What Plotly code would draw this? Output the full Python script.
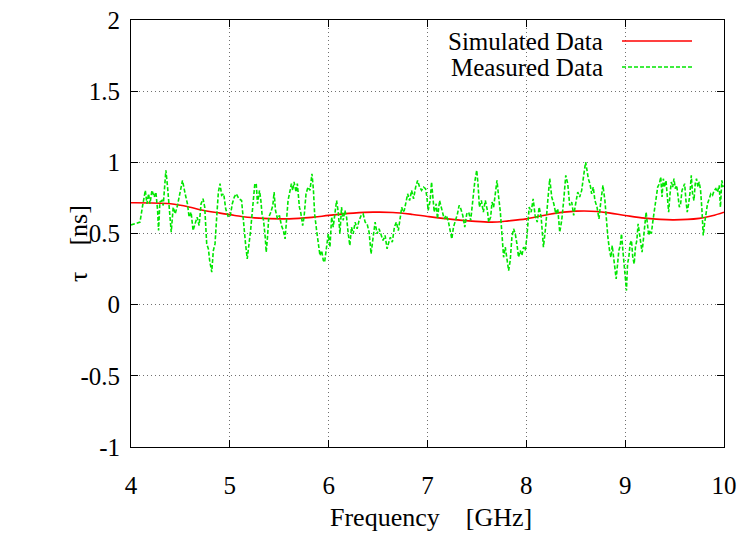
import plotly.graph_objects as go

# ---------------- data ----------------
sim_freq = [4.0, 4.4, 4.6, 4.7, 4.9, 5.05, 5.25, 5.6, 5.85, 6.0, 6.25, 6.45, 6.65, 6.85, 7.0,
            7.25, 7.45, 7.65, 7.82, 8.0, 8.22, 8.5, 8.72, 8.85, 9.0, 9.2, 9.48, 9.75, 9.88, 10.0]
sim_tau = [0.716, 0.709, 0.685, 0.667, 0.643, 0.627, 0.61, 0.603, 0.615, 0.627, 0.643, 0.65, 0.648,
           0.634, 0.62, 0.599, 0.587, 0.58, 0.589, 0.603, 0.634, 0.657, 0.655, 0.643, 0.627, 0.608,
           0.596, 0.606, 0.625, 0.65]

meas_freq = [
    4.0, 4.091, 4.118, 4.145, 4.161, 4.178, 4.192, 4.212, 4.235, 4.252, 4.269, 4.279, 4.292, 4.313,
    4.326, 4.353, 4.370, 4.386, 4.407, 4.427, 4.447, 4.470, 4.494, 4.521, 4.548, 4.571, 4.588,
    4.608, 4.628, 4.649, 4.669, 4.689, 4.709, 4.729, 4.746, 4.766, 4.783, 4.796, 4.817, 4.833,
    4.850, 4.867, 4.884, 4.901, 4.917, 4.938, 4.958, 4.985, 5.005, 5.025, 5.045, 5.065, 5.092,
    5.119, 5.143, 5.159, 5.176, 5.193, 5.210, 5.233, 5.253,
    5.267, 5.280, 5.300, 5.314, 5.327, 5.341, 5.358, 5.368, 5.381, 5.394, 5.415, 5.435, 5.448,
    5.462, 5.482, 5.502, 5.522, 5.542, 5.559, 5.576, 5.589, 5.610, 5.623, 5.636, 5.650, 5.670,
    5.683, 5.704, 5.717, 5.737, 5.751, 5.771, 5.791, 5.811, 5.831, 5.845, 5.858, 5.878, 5.899,
    5.912, 5.929, 5.946, 5.959, 5.979, 5.996, 6.013, 6.030, 6.046, 6.063, 6.080, 6.097, 6.114,
    6.130, 6.147, 6.164, 6.181, 6.198, 6.214, 6.231, 6.248, 6.268, 6.288, 6.308, 6.329, 6.349,
    6.369, 6.389, 6.409, 6.429, 6.443,
    6.450, 6.470, 6.490, 6.510, 6.530, 6.550, 6.571, 6.591, 6.604, 6.624, 6.644, 6.665, 6.685,
    6.705, 6.725, 6.739, 6.752, 6.765, 6.786, 6.799, 6.819, 6.839, 6.859, 6.880, 6.900, 6.920,
    6.940, 6.960, 6.980, 6.994, 7.007, 7.027, 7.041, 7.054, 7.068, 7.088, 7.101, 7.122, 7.135,
    7.152, 7.169, 7.189, 7.209, 7.229, 7.246, 7.263, 7.283, 7.303, 7.320, 7.337, 7.357, 7.377,
    7.397, 7.417, 7.437, 7.458, 7.478, 7.498, 7.511, 7.525, 7.545, 7.565, 7.585, 7.606,
    7.619, 7.639, 7.653, 7.669, 7.686, 7.703, 7.720, 7.737, 7.753, 7.770, 7.787, 7.804, 7.821,
    7.837, 7.854, 7.871, 7.888, 7.905, 7.921, 7.938, 7.955, 7.972, 7.989, 8.005, 8.016, 8.029,
    8.049, 8.069, 8.089, 8.110, 8.130, 8.150, 8.173, 8.197, 8.217, 8.237, 8.257, 8.278, 8.298,
    8.318, 8.338, 8.358, 8.378, 8.399, 8.419, 8.439, 8.459, 8.479, 8.499, 8.520, 8.540, 8.560,
    8.580, 8.600, 8.614, 8.627, 8.644, 8.661, 8.677, 8.694, 8.715, 8.735, 8.755, 8.775, 8.795,
    8.815, 8.825, 8.842, 8.856, 8.869, 8.882, 8.896, 8.909, 8.923, 8.936, 8.950, 8.963, 8.977,
    8.990, 9.003, 9.013, 9.024, 9.037, 9.050, 9.064, 9.077, 9.091, 9.104, 9.118, 9.131, 9.145,
    9.158, 9.171, 9.185, 9.198, 9.212, 9.225, 9.239, 9.252, 9.265, 9.279, 9.296, 9.313, 9.329,
    9.346, 9.360, 9.373, 9.386, 9.400, 9.413, 9.427, 9.440, 9.454, 9.467, 9.481, 9.494, 9.507,
    9.521, 9.534, 9.548, 9.561, 9.575, 9.588, 9.602, 9.615, 9.628, 9.642, 9.655, 9.669, 9.682,
    9.696, 9.709, 9.722, 9.736, 9.749, 9.763, 9.776, 9.790, 9.803, 9.817, 9.833, 9.850, 9.867,
    9.884, 9.901, 9.917, 9.934, 9.951, 9.964, 9.978, 9.991]
meas_tau = [
    0.56, 0.580, 0.697, 0.803, 0.709, 0.779, 0.709, 0.803, 0.756, 0.791, 0.662, 0.521, 0.721, 0.732,
    0.697, 0.944, 0.826, 0.685, 0.509, 0.685, 0.638, 0.697, 0.791, 0.873, 0.779, 0.709, 0.615,
    0.650, 0.521, 0.580, 0.615, 0.556, 0.709, 0.744, 0.685, 0.427, 0.392, 0.310, 0.228, 0.380,
    0.427, 0.615, 0.791, 0.850, 0.768, 0.779, 0.674, 0.615, 0.627, 0.709, 0.756, 0.779, 0.744,
    0.732, 0.521, 0.427, 0.322, 0.404, 0.521, 0.697, 0.850,
    0.850, 0.709, 0.803, 0.732, 0.627, 0.592, 0.474, 0.369, 0.474, 0.615, 0.650, 0.697, 0.791,
    0.662, 0.603, 0.627, 0.556, 0.521, 0.462, 0.592, 0.732, 0.803, 0.850, 0.803, 0.862, 0.791,
    0.850, 0.685, 0.650, 0.556, 0.615, 0.779, 0.826, 0.803, 0.920, 0.815, 0.638, 0.521, 0.404,
    0.345, 0.380, 0.310, 0.298, 0.427, 0.498, 0.404, 0.615, 0.545, 0.662, 0.732, 0.650, 0.498,
    0.685, 0.592, 0.662, 0.615, 0.498, 0.415, 0.545, 0.498, 0.580, 0.533, 0.592, 0.627, 0.638,
    0.580, 0.568, 0.509, 0.357, 0.451,
    0.474, 0.580, 0.498, 0.533, 0.498, 0.451, 0.486, 0.392, 0.427, 0.474, 0.439, 0.545, 0.580,
    0.521, 0.615, 0.685, 0.650, 0.662, 0.732, 0.779, 0.732, 0.803, 0.744, 0.826, 0.873, 0.826,
    0.803, 0.826, 0.815, 0.756, 0.662, 0.732, 0.862, 0.732, 0.650, 0.709, 0.603, 0.732, 0.697,
    0.638, 0.603, 0.627, 0.592, 0.521, 0.462, 0.545, 0.592, 0.638, 0.697, 0.674, 0.627, 0.545,
    0.638, 0.650, 0.592, 0.732, 0.862, 0.944, 0.850, 0.685, 0.732, 0.650, 0.732, 0.662,
    0.580, 0.615, 0.721, 0.685, 0.779, 0.873, 0.756, 0.650, 0.498, 0.333, 0.404, 0.310, 0.239,
    0.310, 0.474, 0.533, 0.498, 0.427, 0.333, 0.380, 0.345, 0.404, 0.380, 0.474, 0.556, 0.685,
    0.650, 0.744, 0.627, 0.580, 0.685, 0.615, 0.404, 0.556, 0.732, 0.885, 0.756, 0.709, 0.638,
    0.674, 0.509, 0.592, 0.732, 0.908, 0.850, 0.697, 0.721, 0.627, 0.709, 0.791, 0.756, 0.803,
    0.908, 1.002, 0.944, 0.885, 0.850, 0.779, 0.826, 0.732, 0.685, 0.603, 0.732, 0.838, 0.732,
    0.533, 0.474, 0.380, 0.333, 0.415, 0.333, 0.216, 0.181, 0.286, 0.380, 0.415, 0.498, 0.380,
    0.263, 0.157, 0.099, 0.286, 0.333, 0.427, 0.451, 0.333, 0.286, 0.404, 0.451, 0.568, 0.498,
    0.427, 0.369, 0.462, 0.580, 0.650, 0.568, 0.486, 0.521, 0.498, 0.580, 0.662, 0.768, 0.826,
    0.850, 0.897, 0.756, 0.885, 0.826, 0.873, 0.756, 0.650, 0.779, 0.862, 0.826, 0.885, 0.815,
    0.838, 0.768, 0.685, 0.709, 0.803, 0.826, 0.850, 0.732, 0.650, 0.709, 0.779, 0.908, 0.779,
    0.732, 0.850, 0.885, 0.826, 0.862, 0.803, 0.674, 0.486, 0.568, 0.638, 0.709, 0.744, 0.779,
    0.768, 0.803, 0.815, 0.791, 0.838, 0.685, 0.873, 0.826]

x_ticks = [4, 5, 6, 7, 8, 9, 10]
x_tick_labels = ["4", "5", "6", "7", "8", "9", "10"]
y_ticks = [-1, -0.5, 0, 0.5, 1, 1.5, 2]
y_tick_labels = ["-1", "-0.5", "0", "0.5", "1", "1.5", "2"]

series_names = ["Simulated Data", "Measured Data"]
series_colors = ["#ff0000", "#00e600"]

# ---------------- figure ----------------
# The page body has an 8px margin, so layout targets are expressed in window pixels
# and converted to figure pixels by subtracting OFF.
W, H = 747, 533
OFF = 8
LEFT, RIGHT, TOP, BOTTOM = 131, 724, 20, 447   # plot frame in window pixels
ML = LEFT - OFF
MR = W - (RIGHT - OFF)
MT = TOP - OFF
MB = H - (BOTTOM - OFF)
FONT = "Liberation Serif, Times New Roman, serif"
FS = 25

fig = go.Figure()
fig.add_trace(go.Scatter(x=sim_freq, y=sim_tau, mode="lines", name=series_names[0],
                         line=dict(color=series_colors[0], width=1.6, shape="spline"),
                         showlegend=False))
fig.add_trace(go.Scatter(x=meas_freq, y=meas_tau, mode="lines", name=series_names[1],
                         line=dict(color=series_colors[1], width=1.6, dash="4px,2px"),
                         showlegend=False))

axis_common = dict(showline=True, linecolor="black", linewidth=1, mirror="allticks",
                   ticks="inside", ticklen=7, tickcolor="black", tickwidth=1,
                   showgrid=True, gridcolor="#707070", griddash="1px,3px", gridwidth=1,
                   zeroline=False, automargin=False, ticklabeloverflow="allow",
                   tickfont=dict(family=FONT, size=FS, color="black"))

fig.update_xaxes(range=[4, 10], tickvals=x_ticks, ticktext=x_tick_labels,
                 ticklabelstandoff=16, **axis_common)
fig.update_yaxes(range=[-1, 2], tickvals=y_ticks, ticktext=y_tick_labels,
                 ticklabelstandoff=5, **axis_common)

pw = W - ML - MR
ph = H - MT - MB


def px_x(p):
    return (p - OFF - ML) / pw


def px_y(p):
    return (H - MB - (p - OFF)) / ph


annotations = [
    dict(text="Frequency&nbsp;&nbsp;&nbsp;&nbsp;[GHz]", xref="paper", yref="paper",
         x=px_x(431), y=px_y(517), showarrow=False, xanchor="center", yanchor="middle",
         font=dict(family=FONT, size=26, color="black")),
    dict(text="τ&nbsp;&nbsp;&nbsp;&nbsp;[ns]", xref="paper", yref="paper",
         x=px_x(78), y=px_y(244), showarrow=False, xanchor="center", yanchor="middle",
         textangle=-90, font=dict(family=FONT, size=26, color="black")),
]
shapes = []
legend_rows = [41, 67]
for name, color, yrow, dash in zip(series_names, series_colors, legend_rows, ["solid", "4px,2px"]):
    annotations.append(dict(text=name, xref="paper", yref="paper", x=px_x(605), y=px_y(yrow),
                            showarrow=False, xanchor="right", yanchor="middle",
                            font=dict(family=FONT, size=FS, color="black")))
    shapes.append(dict(type="line", xref="paper", yref="paper",
                       x0=px_x(622), x1=px_x(692), y0=px_y(yrow), y1=px_y(yrow),
                       line=dict(color=color, width=1.6, dash=dash)))

fig.update_layout(width=W, height=H, margin=dict(l=ML, r=MR, t=MT, b=MB, autoexpand=False),
                  paper_bgcolor="white", plot_bgcolor="white",
                  annotations=annotations, shapes=shapes, showlegend=False)

fig.write_html("out.html")
